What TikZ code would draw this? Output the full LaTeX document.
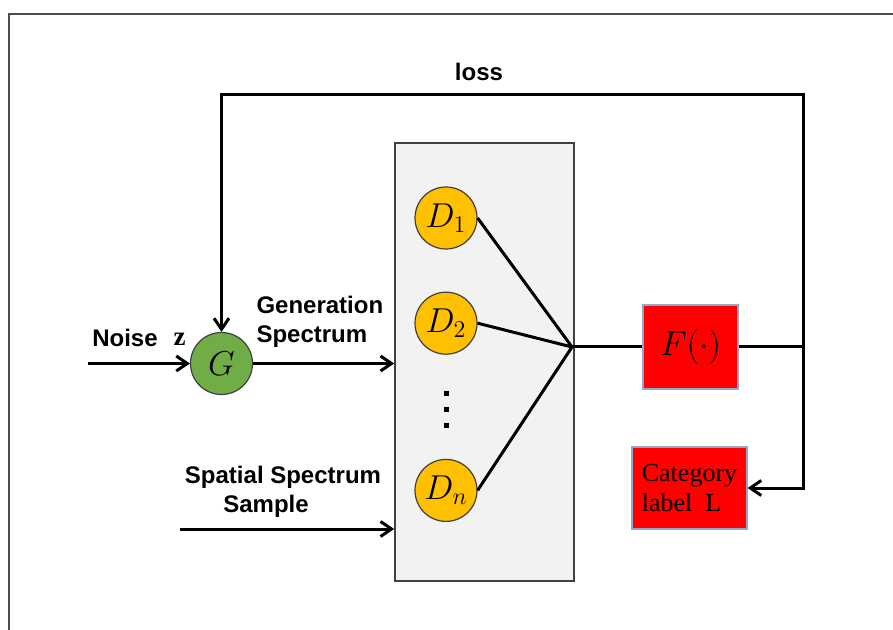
\documentclass[tikz,border=0pt]{standalone}
\usepackage{fontspec}
\setmainfont{Liberation Serif}
\setsansfont{Liberation Sans}
\usetikzlibrary{positioning,arrows.meta}

\definecolor{ggreen}{HTML}{70AD47}
\definecolor{dgold}{HTML}{FFC000}
\definecolor{panel}{HTML}{F2F2F2}
\definecolor{boxedge}{HTML}{8FAAC8}

\begin{document}
\begin{tikzpicture}[x=0.5pt,y=-0.5pt,line width=1.5pt,
    >={Straight Barb[length=5.5pt,width=7.5pt,line width=1.5pt]},
    every node/.style={inner sep=0pt},
    lbl/.style={font=\sffamily\bfseries\fontsize{12}{14.5}\selectfont},
    disc/.style={draw=black!75,line width=0.6pt,circle,minimum size=31pt,
                 font=\fontsize{18.5}{18.5}\selectfont},
    redbox/.style={draw=boxedge,line width=0.6pt,fill=red}]
    \useasboundingbox (0,0) rectangle (893,630);
    % page frame
    \draw[black!70,line width=0.9pt] (9,630) -- (9,14) -- (893,14);

    % generator and discriminator bank
    \node[disc,fill=ggreen,font=\fontsize{19}{19}\selectfont] (G) at (221.5,363.5) {$G$};
    \node[draw=black!75,fill=panel,line width=0.8pt,
          minimum width=89.5pt,minimum height=219pt] (bank) at (484.5,362) {};
    \node[disc,fill=dgold] (D1) at (446,218) {$D_1$};
    \node[disc,fill=dgold] (D2) [below=21pt of D1] {$D_2$};
    \node[disc,fill=dgold] (Dn) [below=52pt of D2] {$D_n$};
    \foreach \y in {393,409,425}
        \fill (446,\y) +(-2.5,-2.5) rectangle +(2.5,2.5);

    \node[redbox,minimum width=47.5pt,minimum height=42pt,
          font=\fontsize{18.5}{18.5}\selectfont] (F) at (690.5,347) {$F(\cdot)$};
    \node[redbox,minimum width=57.5pt,minimum height=41pt,align=left,
          font=\fontsize{13}{15}\selectfont] (cat) at (689.5,488) {Category\\label\ \ L};

    \coordinate (join) at (572,347);
    \coordinate (tap) at (803,347);
    \coordinate (tr) at (803,95);
    \coordinate (noise) at (88,363.5);
    \coordinate (smp) at (180,529);

    % labels
    \node[lbl] (loss) at (479,72) {loss};
    \node[lbl] (noiselbl) at (125,338) {Noise};
    \node[font=\bfseries\fontsize{13.5}{13.5}\selectfont] (zlbl) at (179.5,339) {z};
    \node[lbl,align=left,anchor=west] (gen) at (255,322) {Generation\\Spectrum};
    \node[lbl,align=center] (spatial) at (283,492)
        {Spatial Spectrum\\\hspace*{-17pt}Sample};

    % connectors
    \draw[->] (noise) -- (G);
    \draw[->] (G) -- (G -| bank.west);
    \draw[->] (smp) -- (smp -| bank.west);
    \draw (D1.east) -- (join)
          (D2.east) -- (join)
          (Dn.east) -- (join);
    \draw (join) -- (F.west);
    \draw (F.east) -- (tap);
    \draw[->] (tap) -- (tr) -| (G);
    \draw[->] (tap) |- (cat);
\end{tikzpicture}
\end{document}
